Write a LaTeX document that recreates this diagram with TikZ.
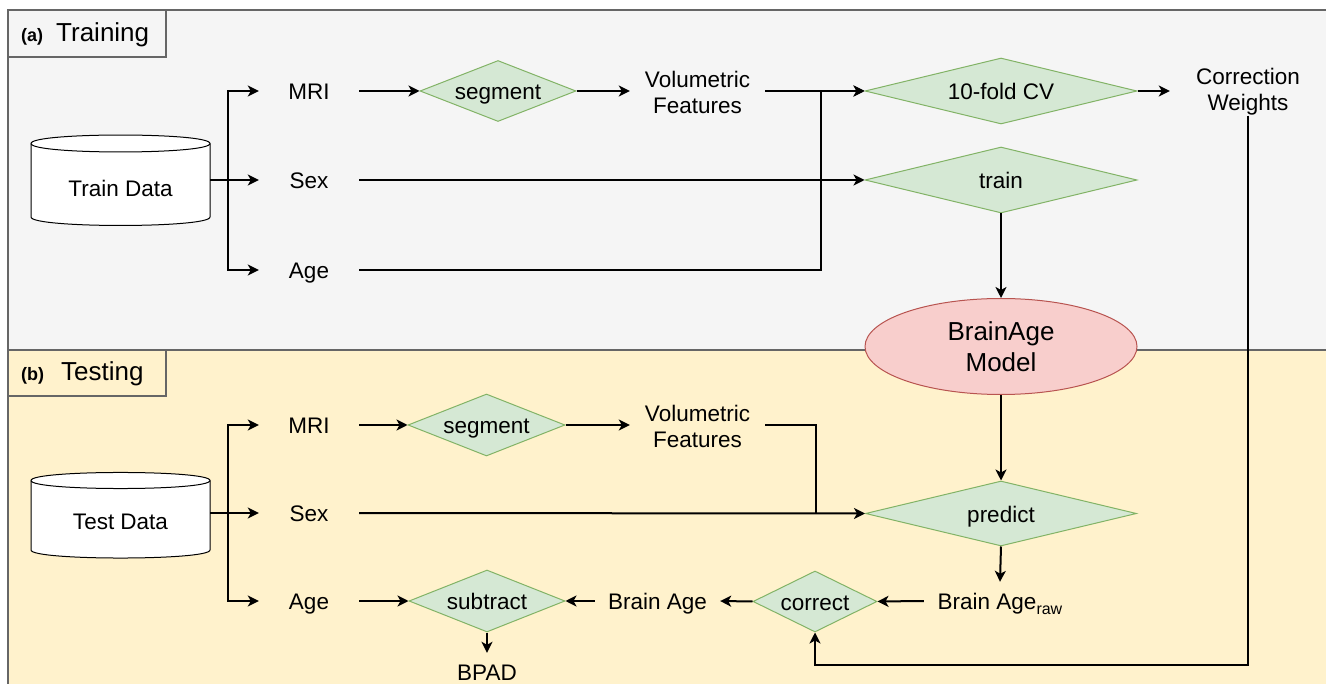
\documentclass[tikz,border=0pt]{standalone}
\usepackage{fontspec}
\setmainfont{Liberation Sans}
\usetikzlibrary{arrows.meta,shapes.geometric}
\definecolor{trainbg}{HTML}{F5F5F5}
\definecolor{testbg}{HTML}{FFF2CC}
\definecolor{panelgray}{HTML}{666666}
\definecolor{lgreen}{HTML}{D5E8D4}
\definecolor{dgreen}{HTML}{82B366}
\definecolor{lred}{HTML}{F8CECC}
\definecolor{dred}{HTML}{B85450}
\tikzset{
  arr/.style={line width=2pt, -{Stealth[length=11pt,width=11pt,inset=3pt]}},
  conn/.style={line width=2pt},
  one/.style={text height=17pt, text depth=0pt},
  dia/.style={diamond, draw=dgreen, fill=lgreen, line width=1pt, inner sep=0pt,
    font=\fontsize{22.5}{26}\selectfont, one},
  txt/.style={inner sep=0pt, minimum width=100pt, minimum height=30pt,
    font=\fontsize{22.5}{26}\selectfont, align=center},
  panel/.style={draw=panelgray, line width=1.2pt},
  lbl/.style={inner sep=0pt, anchor=west},
  cyl/.style={draw=black, fill=white, line width=1pt}
}
\begin{document}
\begin{tikzpicture}[x=1pt,y=-1pt]
\useasboundingbox (0,0) rectangle (1326,684);
% panels
\path[panel, fill=trainbg] (8,10) rectangle (1345,350);
\path[panel, fill=testbg] (8,350) rectangle (1345,700);
\path[panel, fill=trainbg] (8,10) rectangle (166,57);
\path[panel, fill=testbg] (8,350) rectangle (166,396);
\node[lbl] (lbla) at (21,35) {\fontsize{18}{20}\selectfont\bfseries (a)\hspace{13pt}\fontsize{26}{28}\mdseries\selectfont Training};
\node[lbl] (lblb) at (21,374) {\fontsize{18}{20}\selectfont\bfseries (b)\hspace{17pt}\fontsize{26}{28}\mdseries\selectfont Testing};

% ---------- cylinders ----------
\path[cyl] (31,143.5) -- (31,217) .. controls (31,228.3) and (210,228.3) .. (210,217)
  -- (210,143.5) .. controls (210,132.2) and (31,132.2) .. (31,143.5) -- cycle;
\draw[line width=1pt] (31,143.5) .. controls (31,154.8) and (210,154.8) .. (210,143.5);
\node[txt, one, minimum width=179pt] (traindata) at (120.5,188) {Train Data};

\path[cyl] (31,480.5) -- (31,550) .. controls (31,560.7) and (210,560.7) .. (210,550)
  -- (210,480.5) .. controls (210,469.8) and (31,469.8) .. (31,480.5) -- cycle;
\draw[line width=1pt] (31,480.5) .. controls (31,491.2) and (210,491.2) .. (210,480.5);
\node[txt, one, minimum width=179pt] (testdata) at (120.5,521) {Test Data};

% ---------- training ----------
\node[txt, one] (mri1) at (309,91) {MRI};
\node[txt, one] (sex1) at (309,180) {Sex};
\node[txt, one] (age1) at (309,270) {Age};
\node[dia, shape aspect=2.56, minimum width=156pt, minimum height=61pt] (seg1) at (498,91) {segment};
\node[txt, minimum width=135pt, minimum height=52pt] (vol1) at (697.5,92) {Volumetric\\Features};
\node[dia, shape aspect=4.12, minimum width=272pt, minimum height=66pt] (cv) at (1001,91) {10-fold CV};
\node[dia, shape aspect=4.12, minimum width=272pt, minimum height=66pt] (train) at (1001,180) {train};
\node[txt, minimum width=156pt, minimum height=42pt] (cw) at (1248,92) {Correction\\Weights};
\node[ellipse, draw=dred, fill=lred, line width=1pt, inner sep=0pt, minimum width=272pt, minimum height=96pt,
  font=\fontsize{26}{31}\selectfont, align=center] (model) at (1001,346.5) {BrainAge\\Model};

\coordinate (b1) at (228,180);
\coordinate (j1) at (821,91);
\draw[arr] (traindata.east |- b1) -- (sex1.west);
\draw[arr] (b1) |- (mri1.west);
\draw[arr] (b1) |- (age1.west);
\draw[arr] (mri1.east) -- (seg1.west);
\draw[arr] (seg1.east) -- (vol1.west |- seg1.east);
\draw[arr] (vol1.east |- j1) -- (cv.west);
\draw[arr] (age1.east) -| (j1) -- (cv.west);
\draw[arr] (sex1.east) -- (train.west);
\draw[arr] (cv.east) -- (cw.west |- cv.east);
\draw[arr] (train.south) -- (model.north);

% ---------- testing ----------
\node[txt, one] (mri2) at (309,425) {MRI};
\node[txt, one] (sex2) at (309,513) {Sex};
\node[txt, one] (age2) at (309,601) {Age};
\node[dia, shape aspect=2.53, minimum width=157pt, minimum height=62pt] (seg2) at (486.5,425) {segment};
\node[txt, minimum width=135pt, minimum height=52pt] (vol2) at (697.5,426) {Volumetric\\Features};
\node[dia, shape aspect=4.17, minimum width=271pt, minimum height=65pt] (predict) at (1001,513.5) {predict};
\node[txt, one, minimum width=152pt, minimum height=38pt] (raw) at (1000,601)
  {Brain Age\raisebox{-5pt}{\fontsize{16}{18}\selectfont raw}};
\node[dia, shape aspect=2.03, minimum width=124pt, minimum height=61pt] (correct) at (815,601.5) {correct};
\node[txt, one, minimum width=125pt, minimum height=38pt] (bage) at (657.5,601) {Brain Age};
\node[dia, shape aspect=2.52, minimum width=156pt, minimum height=62pt] (subtract) at (487,601) {subtract};
\node[txt, one, minimum width=100pt, minimum height=38pt] (bpad) at (487,672) {BPAD};

\coordinate (b2) at (228,513);
\coordinate (j2) at (816,513.5);
\coordinate (j3) at (815,665);
\coordinate (v2) at (765,425);
\draw[arr] (testdata.east |- b2) -- (sex2.west);
\draw[arr] (b2) |- (mri2.west);
\draw[arr] (b2) |- (age2.west);
\draw[arr] (mri2.east) -- (seg2.west);
\draw[arr] (seg2.east) -- (vol2.west |- seg2.east);
\draw[conn] (vol2.east |- v2) -| (j2);
\draw[arr] (sex2.east) -- (predict.west);
\draw[arr] (model.south) -- (predict.north);
\draw[arr] (predict.south) -- (raw.north);
\draw[arr] (raw.west) -- (correct.east);
\draw[arr] (correct.west) -- (bage.east);
\draw[arr] (bage.west) -- (subtract.east);
\draw[arr] (age2.east) -- (subtract.west);
\draw[arr] (subtract.south) -- (bpad.north);
\draw[arr] (cw.south) |- (j3) -- (correct.south);
\end{tikzpicture}
\end{document}
